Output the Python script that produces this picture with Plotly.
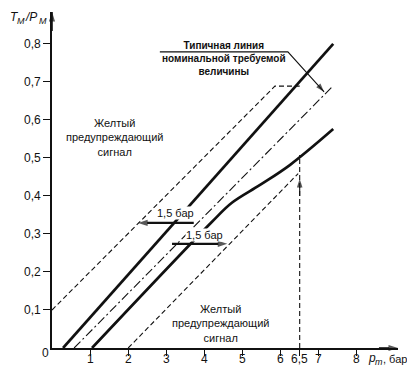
import plotly.graph_objects as go

# ---- data ----
x_tick_vals = [1, 2, 3, 4, 5, 6, 6.5, 7, 8]
x_tick_text = ["1", "2", "3", "4", "5", "6", "6,5", "7", "8"]
y_tick_vals = [0.1, 0.2, 0.3, 0.4, 0.5, 0.6, 0.7, 0.8]
y_tick_text = ["0,1", "0,2", "0,3", "0,4", "0,5", "0,6", "0,7", "0,8"]

upper_warn_x = [0.0, 5.85, 6.50]
upper_warn_y = [0.10, 0.689, 0.689]
tol_upper_x = [0.29, 7.38]
tol_upper_y = [0.0, 0.80]
nominal_x = [0.58, 7.35]
nominal_y = [0.0, 0.687]
tol_lower_x = [1.05, 4.20, 4.72, 5.46, 6.25, 7.38]
tol_lower_y = [0.0, 0.332, 0.382, 0.429, 0.482, 0.576]
lower_warn_x = [2.0, 6.46]
lower_warn_y = [0.0, 0.459]
rated_x = [6.5, 6.5]
rated_y = [0.0, 0.508]
leader_x = [2.83, 6.19, 7.14]
leader_y = [0.779, 0.779, 0.674]

arrow1_x = [3.72, 2.26]
arrow1_y = [0.329, 0.329]
arrow2_x = [3.15, 4.60]
arrow2_y = [0.274, 0.274]
rated_arrow_x = [6.5, 6.5]
rated_arrow_y = [0.40, 0.445]

X_MAX = 9.08
Y_MAX = 0.884

FONT = "Liberation Sans, Arial, sans-serif"
INK = "#111111"

# the page body has an 8px margin: figure is drawn from page pixel (8, 8)
OFF = 8

fig = go.Figure()

def line(x, y, width, dash="solid", shape="linear", head=0, clip=True):
    kw = dict(x=x, y=y, line=dict(color=INK, width=width, dash=dash, shape=shape),
              hoverinfo="skip", showlegend=False, cliponaxis=clip)
    if head:
        n = len(x)
        kw["mode"] = "lines+markers"
        kw["marker"] = dict(symbol=["circle"] * (n - 1) + ["arrow"],
                            size=[0] * (n - 1) + [head],
                            angleref="previous", color=INK,
                            line=dict(width=0))
    else:
        kw["mode"] = "lines"
    fig.add_trace(go.Scatter(**kw))

line(upper_warn_x, upper_warn_y, 1.1, "5px,3px")
line(lower_warn_x, lower_warn_y, 1.1, "5px,3px")
line(nominal_x, nominal_y, 1.1, "9px,3px,2px,3px")
line(tol_upper_x, tol_upper_y, 2.7)
line(tol_lower_x, tol_lower_y, 2.7, shape="spline")
line(rated_x, rated_y, 1.1, "5px,3px")
line(leader_x, leader_y, 1.1, head=9)
line(rated_arrow_x, rated_arrow_y, 1.1, head=9)
# axis arrowheads
line([0, 0], [Y_MAX - 0.05, Y_MAX], 1.6, head=10, clip=False)
line([X_MAX - 0.5, X_MAX], [0, 0], 1.6, head=10, clip=False)

ann = []

# page pixel -> paper helpers (plot area on page: x 52..398, y 12..348)
def pp_x(p):
    return (p - 52) / 346

def pp_y(p):
    return (348 - p) / 336

def text(px, py, s, size=11, bg=None, bold=False, italic=False, xanchor="center"):
    if bold:
        s = "<b>" + s + "</b>"
    if italic:
        s = "<i>" + s + "</i>"
    d = dict(x=pp_x(px), y=pp_y(py), xref="paper", yref="paper", text=s,
             showarrow=False, font=dict(family=FONT, size=size, color=INK),
             xanchor=xanchor, yanchor="middle", align="center")
    if bg:
        d["bgcolor"] = bg
        d["borderpad"] = 0
    ann.append(d)

text(114, 137, "Желтый<br>предупреждающий<br>сигнал", 11)
text(220, 323, "Желтый<br>предупреждающий<br>сигнал", 11)
text(224, 59, "Типичная линия<br>номинальной требуемой<br>величины", 10, bold=True)

text(175, 213, "1,5 бар", 11, "white")
text(204, 235, "1,5 бар", 11, "white")

text(45, 353, "0", 12)

# x tick labels, placed on the x scale just under the tick marks
for v, t in zip(x_tick_vals, x_tick_text):
    ann.append(dict(x=v, y=pp_y(359), xref="x", yref="paper", text=t,
                    showarrow=False, xanchor="center", yanchor="middle",
                    font=dict(family=FONT, size=12, color=INK)))

# y-axis title  T_M / P_M
text(8, 17, "T", 12, italic=True, xanchor="left")
text(15, 21, "M", 9, italic=True, xanchor="left")
text(23, 17, "/P", 12, italic=True, xanchor="left")
text(37, 21, "M", 9, italic=True, xanchor="left")

# x-axis title  p_m, бар
text(366, 358, "p", 12, italic=True, xanchor="left")
text(373, 362, "m", 9, italic=True, xanchor="left")
text(381, 359, ", бар", 11, xanchor="left")

# 1.5 bar arrows
line(arrow1_x, arrow1_y, 2.2, head=10)
line(arrow2_x, arrow2_y, 2.2, head=10)

fig.update_layout(
    width=415 - OFF, height=376 - 2 * OFF,
    margin=dict(l=52 - OFF, r=17, t=12 - OFF, b=376 - 2 * OFF - (348 - OFF)),
    paper_bgcolor="white", plot_bgcolor="white",
    showlegend=False,
    annotations=ann,
    font=dict(family=FONT, size=12, color=INK),
    xaxis=dict(range=[0, X_MAX], showgrid=False, zeroline=False,
               automargin=False,
               showline=True, linecolor=INK, linewidth=1.6,
               ticks="outside", ticklen=6, tickwidth=1.3, tickcolor=INK,
               tickvals=x_tick_vals, showticklabels=False),
    yaxis=dict(range=[0, Y_MAX], showgrid=False, zeroline=False,
               automargin=False,
               showline=True, linecolor=INK, linewidth=1.6,
               ticks="outside", ticklen=7, tickwidth=1.3, tickcolor=INK,
               tickvals=y_tick_vals, ticktext=y_tick_text,
               tickfont=dict(family=FONT, size=12, color=INK)),
)

fig.write_html("out.html")
